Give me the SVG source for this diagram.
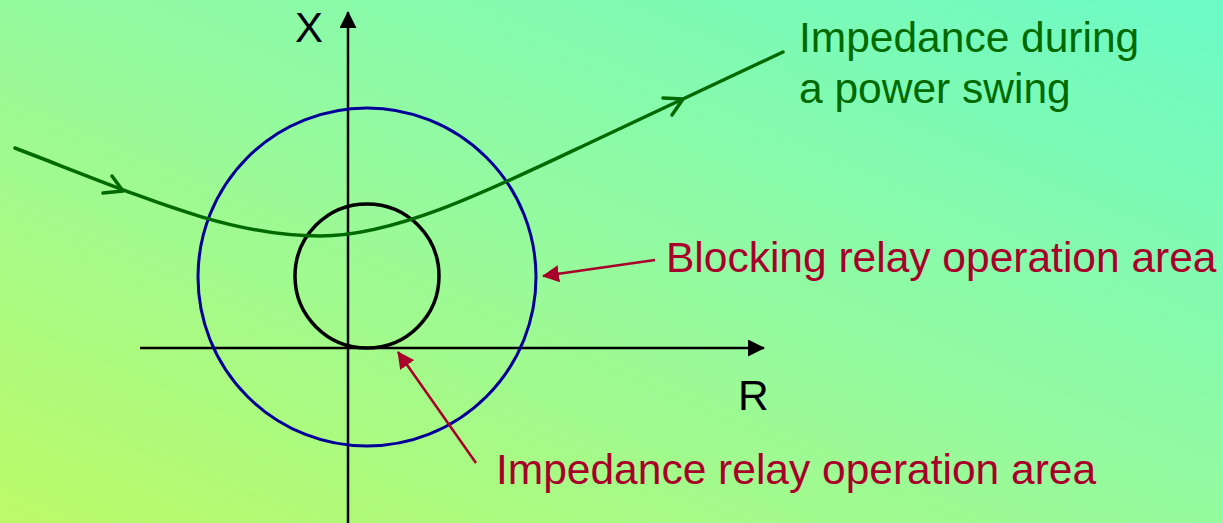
<svg xmlns="http://www.w3.org/2000/svg" width="1223" height="523" viewBox="0 0 1223 523">
<defs>
<linearGradient id="bg" x1="0" y1="1" x2="1" y2="0">
<stop offset="0" stop-color="#BCFA68"/>
<stop offset="0.5" stop-color="#95FA9E"/>
<stop offset="1" stop-color="#6CFAC6"/>
</linearGradient>
<marker id="axisArrow" markerWidth="17" markerHeight="17" refX="16" refY="8.5" orient="auto" markerUnits="userSpaceOnUse">
<path d="M0,0 L17,8.5 L0,17 Z" fill="#000"/>
</marker>
<marker id="redArrow" markerWidth="17" markerHeight="17" refX="16" refY="8.5" orient="auto" markerUnits="userSpaceOnUse">
<path d="M0,0 L17,8.5 L0,17 Z" fill="#A8002A"/>
</marker>
</defs>
<style>
.axis{stroke:#000;stroke-width:2.5;fill:none}
.lbl{font-family:"Liberation Sans",Arial,sans-serif;font-size:42.5px}
.green{fill:#006A00}
.red{fill:#A8002A}
.pointer{stroke:#A8002A;stroke-width:2.5;fill:none}
.swing{stroke:#006A00;stroke-width:3.5;fill:none;stroke-linecap:round;stroke-linejoin:round}
</style>
<rect x="0" y="0" width="1223" height="523" fill="url(#bg)"/>
<g id="axes">
<line class="axis" x1="348" y1="523" x2="348" y2="12" marker-end="url(#axisArrow)"/>
<line class="axis" x1="140" y1="348" x2="764" y2="348" marker-end="url(#axisArrow)"/>
<text class="lbl" x="295" y="42" fill="#000" textLength="28" lengthAdjust="spacingAndGlyphs">X</text>
<text class="lbl" x="738" y="410" fill="#000">R</text>
</g>
<g id="blocking-circle">
<circle cx="367" cy="277" r="169" fill="none" stroke="#000099" stroke-width="3"/>
</g>
<g id="impedance-circle">
<circle cx="367" cy="276" r="72" fill="none" stroke="#000" stroke-width="3.5"/>
</g>
<g id="power-swing">
<path class="swing" d="M15,148 C150,200 230,236 320,236 C400,236 500,185 600,138 L783,52"/>
<polyline class="swing" points="112,176 123,191 103,193"/>
<polyline class="swing" points="663,98 683,99 672,115"/>
<text class="lbl green" x="799" y="52">Impedance during</text>
<text class="lbl green" x="799" y="103">a power swing</text>
</g>
<g id="connectors">
<line class="pointer" x1="655" y1="260" x2="543" y2="276" marker-end="url(#redArrow)"/>
<line class="pointer" x1="476" y1="463" x2="398" y2="352" marker-end="url(#redArrow)"/>
</g>
<g id="label-blocking">
<text class="lbl red" x="666" y="272">Blocking relay operation area</text>
</g>
<g id="label-impedance">
<text class="lbl red" x="496" y="484">Impedance relay operation area</text>
</g>
</svg>
